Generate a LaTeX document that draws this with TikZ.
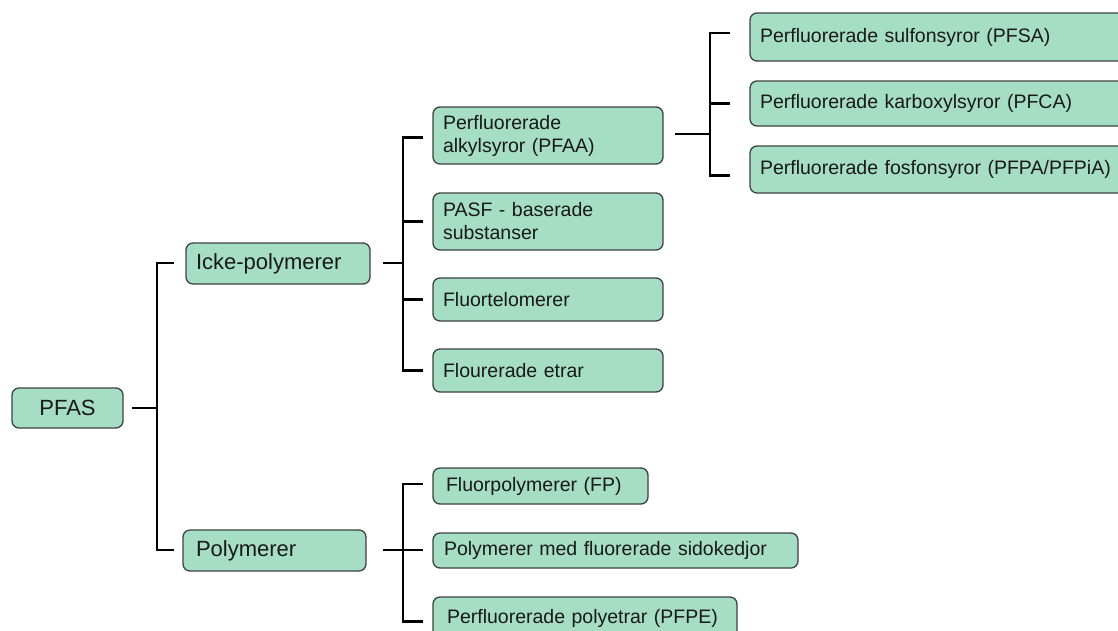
\documentclass[tikz,border=0pt]{standalone}
\usepackage{fontspec}
\setmainfont{Liberation Sans}
\definecolor{boxgreen}{RGB}{166,222,197}
\definecolor{boxedge}{RGB}{62,66,64}
\definecolor{inkc}{RGB}{25,25,25}
\begin{document}
\begin{tikzpicture}[x=1pt,y=-1pt,
  box/.style={draw=boxedge, fill=boxgreen, rounded corners=7pt, line width=1.3pt,
    anchor=north west, inner ysep=0pt, outer sep=0pt, text=inkc, align=left},
  big/.style={font=\fontsize{22}{26}\selectfont},
  small/.style={font=\fontsize{19.5}{23}\selectfont},
  conn/.style={draw=black, line width=2.1pt}]
\useasboundingbox (0,0) rectangle (1118,630);
\begin{scope}
\clip (0,0) rectangle (1118,630);

% top level
\node[box, big, align=center, minimum width=111pt, minimum height=40pt, inner xsep=0pt] (pfas) at (12,388) {PFAS};
\node[box, big, minimum width=184pt, minimum height=41pt, inner xsep=10pt, text width=164pt] (icke) at (186,243) {Icke-polymerer};
\node[box, big, minimum width=183pt, minimum height=41pt, inner xsep=13pt, text width=157pt] (poly) at (183,530) {Polymerer};

% non-polymer groups
\node[box, small, minimum width=230pt, minimum height=57pt, inner xsep=10pt, text width=210pt] (pfaa) at (433,107) {Perfluorerade\\alkylsyror (PFAA)};
\node[box, small, minimum width=230pt, minimum height=57pt, inner xsep=10pt, text width=210pt] (pasf) at (433,193) {PASF - baserade\\substanser};
\node[box, small, minimum width=230pt, minimum height=43pt, inner xsep=10pt, text width=210pt] (ftel) at (433,278) {Fluortelomerer};
\node[box, small, minimum width=230pt, minimum height=43pt, inner xsep=10pt, text width=210pt] (etrar) at (433,349) {Flourerade etrar};

% PFAA subgroups
\node[box, small, minimum width=380pt, minimum height=48pt, inner xsep=10pt, text width=360pt] (pfsa) at (750,13) {Perfluorerade sulfonsyror (PFSA)};
\node[box, small, minimum width=380pt, minimum height=45pt, inner xsep=10pt, text width=360pt] (pfca) at (750,81) {Perfluorerade karboxylsyror (PFCA)};
\node[box, small, minimum width=380pt, minimum height=47pt, inner xsep=10pt, text width=360pt] (pfpa) at (750,146) {Perfluorerade fosfonsyror (PFPA/PFPiA)};

% polymer groups
\node[box, small, minimum width=215pt, minimum height=36pt, inner xsep=13pt, text width=189pt] (fp) at (433,468) {Fluorpolymerer (FP)};
\node[box, small, minimum width=365pt, minimum height=35pt, inner xsep=11pt, text width=343pt] (sido) at (433,533) {Polymerer med fluorerade sidokedjor};
\node[box, small, minimum width=304pt, minimum height=43pt, inner xsep=14pt, text width=276pt] (pfpe) at (433,597) {Perfluorerade polyetrar (PFPE)};
\end{scope}

% junctions
\coordinate (s1) at (157,408);
\coordinate (s2) at (403,263);
\coordinate (s3) at (403,550);
\coordinate (s4) at (710,134);

% PFAS bracket
\draw[conn] ([xshift=9pt]pfas.east |- s1) -- (s1);
\draw[conn] ([xshift=-12pt]icke.west |- s2) -| (s1) |- ([xshift=-9pt]poly.west |- s3);

% non-polymer bracket
\draw[conn] ([xshift=13pt]icke.east |- s2) -- (s2);
\draw[conn] ([xshift=-10pt,yshift=-2pt]pfaa.west) -| (s2) |- ([xshift=-10pt]etrar.west);
\draw[conn] ([xshift=-10pt]pasf.west) -- (pasf.west -| s2);
\draw[conn] ([xshift=-10pt]ftel.west) -- (ftel.west -| s2);

% polymer bracket
\draw[conn] ([xshift=-10pt,yshift=2pt]fp.west) -| (s3) |- ([xshift=-10pt,yshift=-3pt]pfpe.west);
\draw[conn] ([xshift=17pt]poly.east |- s3) -- ([xshift=-10pt]sido.west |- s3);

% PFAA bracket
\draw[conn] ([xshift=12pt]pfaa.east |- s4) -- (s4);
\draw[conn] ([xshift=-20pt,yshift=4pt]pfsa.west) -| (s4) |- ([xshift=-20pt,yshift=-6pt]pfpa.west);
\draw[conn] ([xshift=-20pt]pfca.west) -- (pfca.west -| s4);
\end{tikzpicture}
\end{document}
